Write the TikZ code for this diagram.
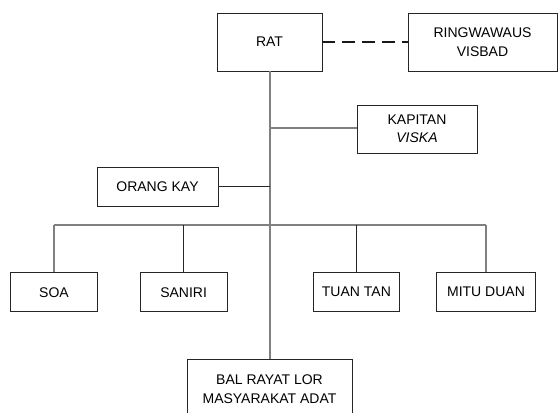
\documentclass[tikz,border=0pt]{standalone}
\usepackage{fontspec}
\setmainfont{Liberation Sans}
\begin{document}
\begin{tikzpicture}[x=1pt,y=-1pt,
  box/.style={draw=black!85,line width=0.9pt,fill=white,inner sep=0pt,align=center,
    font=\fontsize{14}{18.5}\selectfont,text=black},
  mainline/.style={draw=black!50,line width=1.8pt},
  thinline/.style={draw=black!85,line width=0.9pt},
  dashline/.style={draw=black!90,line width=1.8pt,dash pattern=on 13pt off 7pt}]
\useasboundingbox (0,0) rectangle (559,412);
\node[box,minimum width=105pt,minimum height=58pt] (rat) at (269.5,42) {RAT};
\node[box,minimum width=149pt,minimum height=58pt] (ring) at (482.5,42) {RINGWAWAUS\\VISBAD};
\node[box,minimum width=120pt,minimum height=48pt] (kap) at (417,129) {KAPITAN\\\itshape VISKA};
\node[box,minimum width=121pt,minimum height=39pt] (orang) at (157.5,186.5) {ORANG KAY};
\node[box,minimum width=86.6pt,minimum height=39pt] (soa) at (54,292.2) {SOA};
\node[box,minimum width=87.3pt,minimum height=39pt] (saniri) at (183.6,292.2) {SANIRI};
\node[box,minimum width=86.7pt,minimum height=39pt] (tuan) at (356.4,292.2) {TUAN TAN};
\node[box,minimum width=99.4pt,minimum height=39pt] (mitu) at (486,292.2) {MITU DUAN};
\node[box,minimum width=165pt,minimum height=60pt] (bal) at (269.5,389) {BAL RAYAT LOR\\MASYARAKAT ADAT};
\coordinate (jk) at (270,128);
\coordinate (jo) at (270,186.5);
\coordinate (bl) at (54,225);
\coordinate (bs) at (183.6,225);
\coordinate (bt) at (356.4,225);
\coordinate (br) at (486,225);
\draw[dashline] (rat.east) -- (ring.west);
\draw[mainline] (rat.south -| jk) -- (bal.north -| jk);
\draw[mainline] (jk) -- (kap.west |- jk);
\draw[thinline] (jo) -- (orang.east);
\draw[mainline] (bl) -- (br);
\draw[mainline] (bl) -- (soa.north);
\draw[thinline] (bs) -- (saniri.north);
\draw[thinline] (bt) -- (tuan.north);
\draw[mainline] (br) -- (mitu.north);
\end{tikzpicture}
\end{document}
